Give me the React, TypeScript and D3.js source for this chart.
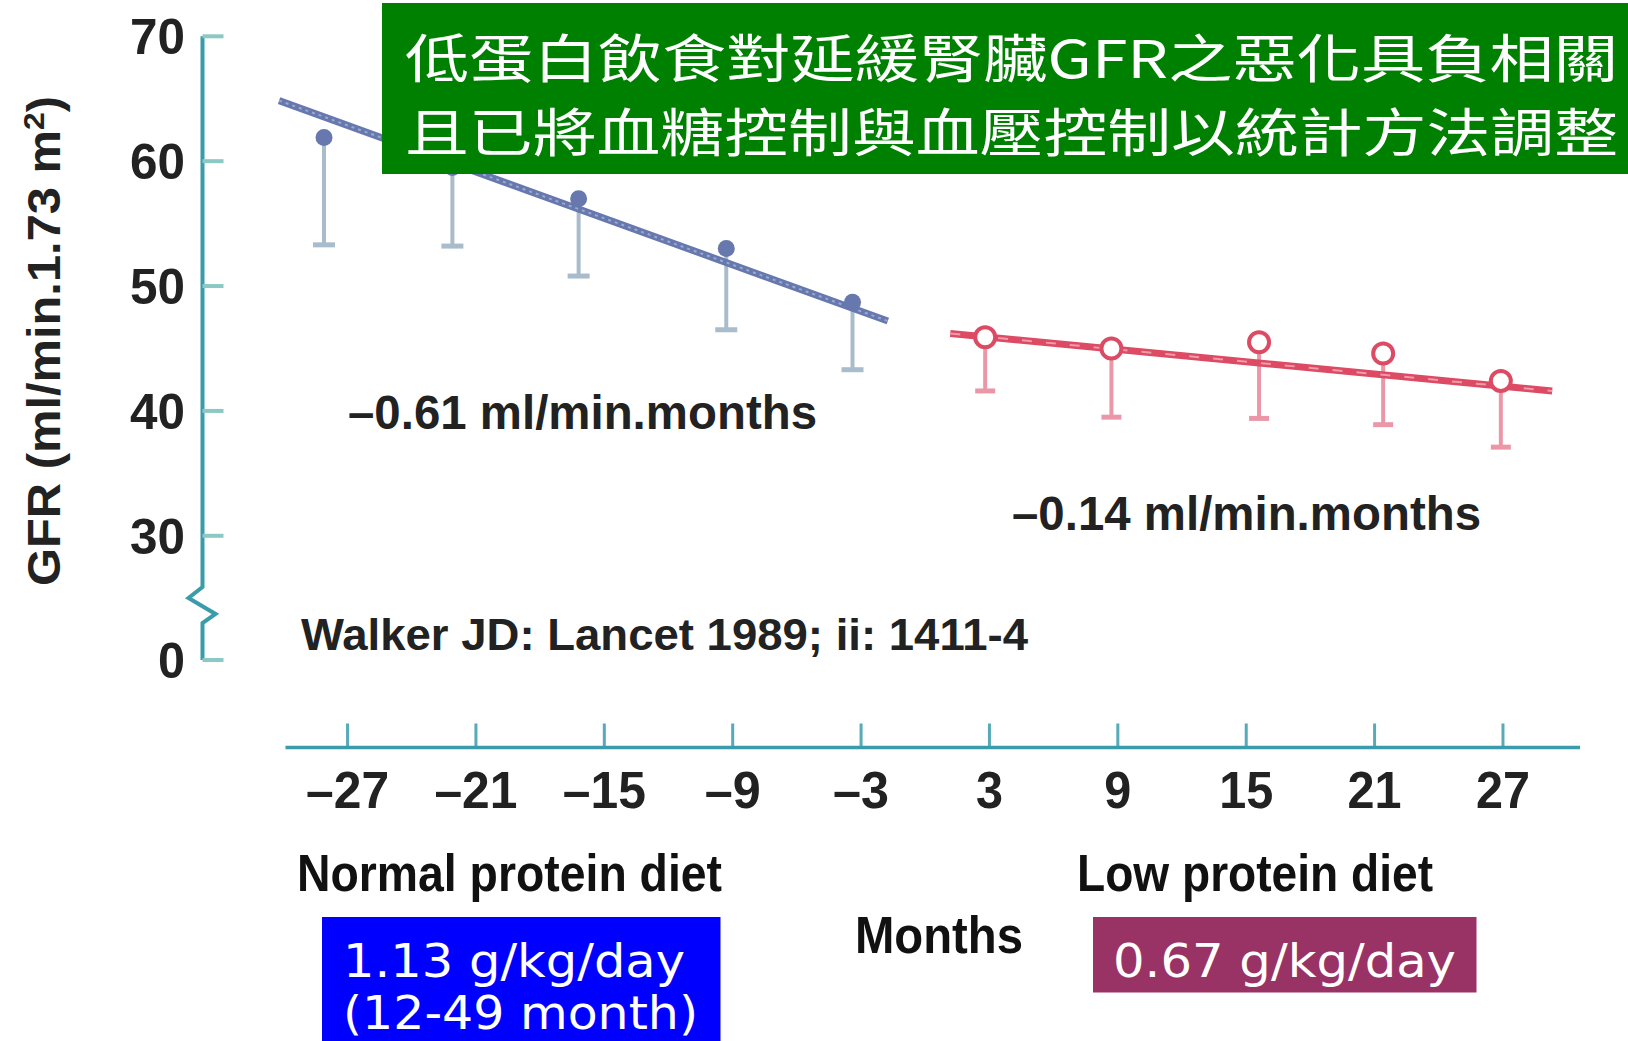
import React from "react";
import * as d3 from "d3";

// ---- data ----
const monthTicks = [-27, -21, -15, -9, -3, 3, 9, 15, 21, 27];
const gfrTicks = [0, 30, 40, 50, 60, 70];

const normalMonths = [-28.1, -22.1, -16.2, -9.3, -3.4];
const normalGFR = [61.9, 59.5, 57.0, 53.0, 48.7];
const normalLower = [53.3, 53.2, 50.8, 46.5, 43.3];

const lowMonths = [2.8, 8.7, 15.6, 21.4, 26.9];
const lowGFR = [45.9, 45.0, 45.5, 44.6, 42.4];
const lowLower = [41.6, 39.5, 39.4, 38.9, 37.1];

const normalFitMonths = [-30.2, -1.75];
const normalFitGFR = [64.85, 47.2];
const lowFitMonths = [1.17, 29.3];
const lowFitGFR = [46.2, 41.6];

const slopeLabels = ["\u20130.61 ml/min.months", "\u20130.14 ml/min.months"];
const titleLines = [
  "低蛋白飲食對延緩腎臟GFR之惡化具負相關",
  "且已將血糖控制與血壓控制以統計方法調整",
];

const W = 1628;
const H = 1041;

const AXIS = "#3a9cab";
const NORMAL = "#6678ad";
const NORMAL_ERR = "#a9bccb";
const LOW = "#dc4a64";
const LOW_ERR = "#ea98a8";
const FONT = "'Liberation Sans', Arial, Helvetica, sans-serif";

function tickLabel(t: number) {
  return t < 0 ? "\u2013" + Math.abs(t) : String(t);
}
function tickLabelLength(t: number) {
  const digits = String(Math.abs(t)).length;
  return digits * 27 + (t < 0 ? 29 : 0);
}

export default function App() {
  const x = d3.scaleLinear().domain([-29.9, 30.6]).range([285.5, 1580]);
  const y = d3.scaleLinear().domain([0, 25.9, 70]).range([660, 587, 36.3]);

  const line = d3
    .line<[number, number]>()
    .x((d) => x(d[0]))
    .y((d) => y(d[1]));

  const normalFit: [number, number][] = normalFitMonths.map((m, i) => [m, normalFitGFR[i]]);
  const lowFit: [number, number][] = lowFitMonths.map((m, i) => [m, lowFitGFR[i]]);

  const axisX = 202.5;
  const axisY = 747.5;

  return (
    <svg
      width={W}
      height={H}
      viewBox={`0 0 ${W} ${H}`}
      style={{ position: "absolute", left: 0, top: 0, display: "block", background: "#fff" }}
    >
      <rect x={0} y={0} width={W} height={H} fill="#fff" />

      {/* Y axis with break */}
      <path
        d={`M${axisX},${y(70)} L${axisX},${y(25.9)} L${axisX - 14},${y(25.9) + 11} L${axisX + 13},${y(25.9) + 27} L${axisX},${y(25.9) + 36} L${axisX},${y(0)}`}
        fill="none"
        stroke={AXIS}
        strokeWidth={4}
      />
      {gfrTicks.map((t) => (
        <g key={"yt" + t}>
          <line x1={axisX} x2={axisX + 21} y1={y(t)} y2={y(t)} stroke="#8cc9c4" strokeWidth={4} />
          <text
            x={185}
            y={y(t) + 18}
            textAnchor="end"
            fontFamily={FONT}
            fontWeight="bold"
            fontSize={50}
            fill="#222"
            textLength={t === 0 ? 27 : 55}
            lengthAdjust="spacingAndGlyphs"
          >
            {t}
          </text>
        </g>
      ))}
      <text
        transform={`translate(60,${341}) rotate(-90)`}
        textAnchor="middle"
        fontFamily={FONT}
        fontWeight="bold"
        fontSize={46}
        fill="#222"
        textLength={490}
        lengthAdjust="spacingAndGlyphs"
      >
        GFR (ml/min.1.73 m<tspan baselineShift="super" fontSize={30}>2</tspan>)
      </text>

      {/* X axis */}
      <line x1={x(-29.9)} x2={x(30.6)} y1={axisY} y2={axisY} stroke={AXIS} strokeWidth={3.5} />
      {monthTicks.map((t) => (
        <g key={"xt" + t}>
          <line x1={x(t)} x2={x(t)} y1={axisY} y2={axisY - 24} stroke={AXIS} strokeWidth={3} opacity={0.85} />
          <text
            x={x(t)}
            y={axisY + 60}
            textAnchor="middle"
            fontFamily={FONT}
            fontWeight="bold"
            fontSize={52}
            fill="#222"
            textLength={tickLabelLength(t)}
            lengthAdjust="spacingAndGlyphs"
          >
            {tickLabel(t)}
          </text>
        </g>
      ))}

      {/* Normal protein diet: error bars, fit, points */}
      {normalMonths.map((m, i) => (
        <g key={"ne" + i}>
          <line x1={x(m)} x2={x(m)} y1={y(normalGFR[i])} y2={y(normalLower[i])} stroke={NORMAL_ERR} strokeWidth={4} />
          <line x1={x(m) - 11} x2={x(m) + 11} y1={y(normalLower[i])} y2={y(normalLower[i])} stroke={NORMAL_ERR} strokeWidth={5} />
        </g>
      ))}
      <path d={line(normalFit) || ""} fill="none" stroke={NORMAL} strokeWidth={7} />
      <path d={line(normalFit) || ""} fill="none" stroke="#9aa8d0" strokeWidth={2} strokeDasharray="3 4" />
      {normalMonths.map((m, i) => (
        <circle key={"np" + i} cx={x(m)} cy={y(normalGFR[i])} r={8.5} fill={NORMAL} />
      ))}

      {/* Low protein diet */}
      {lowMonths.map((m, i) => (
        <g key={"le" + i}>
          <line x1={x(m)} x2={x(m)} y1={y(lowGFR[i])} y2={y(lowLower[i])} stroke={LOW_ERR} strokeWidth={4} />
          <line x1={x(m) - 10} x2={x(m) + 10} y1={y(lowLower[i])} y2={y(lowLower[i])} stroke={LOW_ERR} strokeWidth={5} />
        </g>
      ))}
      <path d={line(lowFit) || ""} fill="none" stroke={LOW} strokeWidth={7} />
      <path d={line(lowFit) || ""} fill="none" stroke="#f09aaa" strokeWidth={2} strokeDasharray="10 14" />
      {lowMonths.map((m, i) => (
        <circle key={"lp" + i} cx={x(m)} cy={y(lowGFR[i])} r={10} fill="#fff" stroke={LOW} strokeWidth={4} />
      ))}

      {/* Slope annotations */}
      <text x={348} y={429} fontFamily={FONT} fontWeight="bold" fontSize={48} fill="#222" textLength={469} lengthAdjust="spacingAndGlyphs">
        {slopeLabels[0]}
      </text>
      <text x={1012} y={530} fontFamily={FONT} fontWeight="bold" fontSize={48} fill="#222" textLength={469} lengthAdjust="spacingAndGlyphs">
        {slopeLabels[1]}
      </text>
      <text x={301} y={650} fontFamily={FONT} fontWeight="bold" fontSize={44} fill="#222" textLength={727} lengthAdjust="spacingAndGlyphs">
        Walker JD: Lancet 1989; ii: 1411-4
      </text>

      {/* Group labels */}
      <text x={297} y={891} fontFamily={FONT} fontWeight="bold" fontSize={52} fill="#111" textLength={425} lengthAdjust="spacingAndGlyphs">
        Normal protein diet
      </text>
      <text x={1077} y={891} fontFamily={FONT} fontWeight="bold" fontSize={52} fill="#111" textLength={356} lengthAdjust="spacingAndGlyphs">
        Low protein diet
      </text>
      <text x={855} y={953} fontFamily={FONT} fontWeight="bold" fontSize={52} fill="#111" textLength={168} lengthAdjust="spacingAndGlyphs">
        Months
      </text>

      {/* Dose boxes */}
      <rect x={322} y={917} width={398.5} height={130} fill="#0000ff" />
      <text x={343} y={977} fontFamily="'DejaVu Sans', Verdana, sans-serif" fontSize={46} fill="#fff" textLength={342} lengthAdjust="spacingAndGlyphs">
        1.13 g/kg/day
      </text>
      <text x={343} y={1029} fontFamily="'DejaVu Sans', Verdana, sans-serif" fontSize={46} fill="#fff" textLength={355} lengthAdjust="spacingAndGlyphs">
        (12-49 month)
      </text>
      <rect x={1093} y={917} width={383.5} height={75.5} fill="#993366" />
      <text x={1113} y={977} fontFamily="'DejaVu Sans', Verdana, sans-serif" fontSize={46} fill="#fff" textLength={343} lengthAdjust="spacingAndGlyphs">
        0.67 g/kg/day
      </text>

      {/* Title box */}
      <rect x={382} y={3} width={W - 382} height={171} fill="#008000" />
      {titleLines.map((t, i) => (
        <text
          key={"tl" + i}
          x={405}
          y={78 + i * 74}
          fontFamily="'Noto Sans CJK TC', 'Noto Sans CJK SC', sans-serif"
          fontSize={52}
          fill="#fff"
          textLength={1213}
          lengthAdjust="spacingAndGlyphs"
        >
          {t}
        </text>
      ))}
    </svg>
  );
}
